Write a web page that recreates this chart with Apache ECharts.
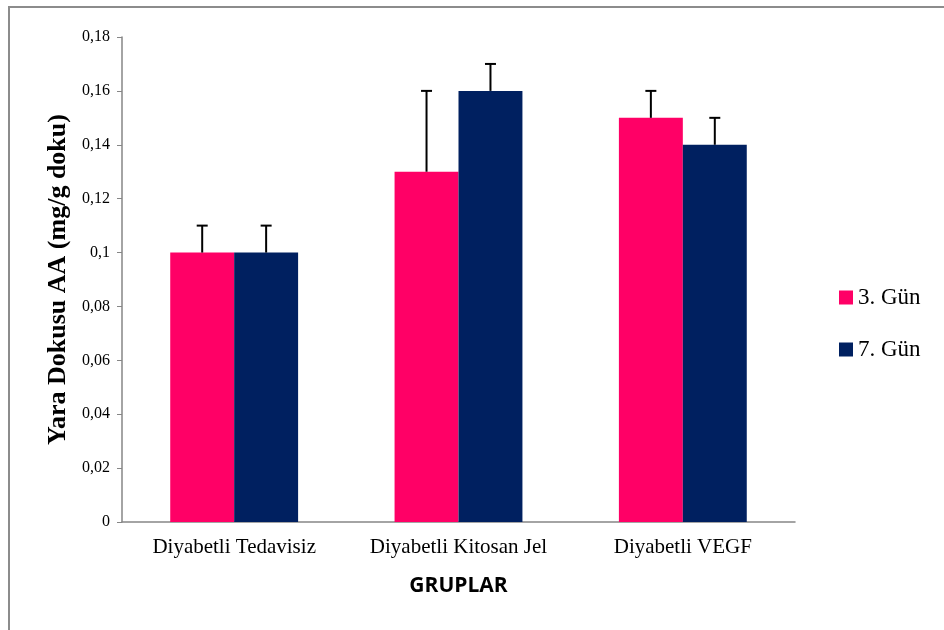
<!DOCTYPE html>
<html>
<head>
<meta charset="utf-8">
<script src="https://cdn.jsdelivr.net/npm/echarts@6/dist/echarts.min.js"></script>
<style>
html,body{margin:0;padding:0;background:#fff;}
#chart{width:944px;height:630px;}
</style>
</head>
<body>
<div id="chart"></div>
<script>
var groups = ['Diyabetli Tedavisiz', 'Diyabetli Kitosan Jel', 'Diyabetli VEGF'];
var seriesNames = ['3. Gün', '7. Gün'];
var day3 = [0.10, 0.13, 0.15];
var day3Err = [0.01, 0.03, 0.01];
var day7 = [0.10, 0.16, 0.14];
var day7Err = [0.01, 0.01, 0.01];
var colors = ['#ff0066', '#002060'];

var catGap = 0.43;

// hata cubugu (sadece yukari)
function errorBar(side){
	return function(params, api){
		var idx = api.value(0);
		var top = api.coord([idx, api.value(1) + api.value(2)]);
		var base = api.coord([idx, api.value(1)]);
		var catW = api.size([1, 0])[0];
		var bw = catW * (1 - catGap) / 2;
		var x = base[0] + side * bw / 2;
		var cap = 5.5;
		var st = {stroke: '#000', lineWidth: 2};
		return {
			type: 'group',
			children: [
				{type: 'line', shape: {x1: x, y1: base[1], x2: x, y2: top[1]}, style: st},
				{type: 'line', shape: {x1: x - cap, y1: top[1], x2: x + cap, y2: top[1]}, style: st}
			]
		};
	};
}

function errData(vals, errs){
	var out = [];
	for(var i = 0; i < vals.length; i++) out.push([i, vals[i], errs[i]]);
	return out;
}

var chart = echarts.init(document.getElementById('chart'));
var option = {
	animation: false,
	color: colors,
	graphic: [{
		type: 'rect',
		shape: {x: 9, y: 7, width: 1000, height: 700},
		style: {fill: 'none', stroke: '#8c8c8c', lineWidth: 2},
		z: -1
	}],
	grid: {left: 122, right: 149, top: 37, bottom: 108},
	legend: {
		orient: 'vertical',
		left: 834,
		top: 281,
		itemWidth: 14,
		itemHeight: 14,
		itemGap: 29,
		icon: 'rect',
		data: seriesNames,
		textStyle: {fontFamily: 'Liberation Serif', fontSize: 23, color: '#000', padding: [0, 0, 0, 0]}
	},
	xAxis: {
		type: 'category',
		data: groups,
		name: 'GRUPLAR',
		nameLocation: 'middle',
		nameGap: 54,
		nameTextStyle: {fontFamily: 'Open Sans', fontWeight: 'bold', fontSize: 21, color: '#000'},
		axisLine: {lineStyle: {color: '#868686', width: 1.5}},
		axisTick: {length: 6, lineStyle: {color: '#868686'}},
		axisLabel: {interval: 0, hideOverlap: false, fontFamily: 'Liberation Serif', fontSize: 21, color: '#000', margin: 15}
	},
	yAxis: {
		type: 'value',
		min: 0,
		max: 0.18,
		interval: 0.02,
		name: 'Yara Dokusu AA (mg/g doku)',
		nameLocation: 'middle',
		nameRotate: 90,
		nameGap: 48,
		nameTextStyle: {fontFamily: 'Liberation Serif', fontWeight: 'bold', fontSize: 26, color: '#000'},
		axisLine: {show: true, lineStyle: {color: '#868686', width: 1.5}},
		axisTick: {show: true, length: 5, lineStyle: {color: '#868686'}},
		splitLine: {show: false},
		axisLabel: {
			fontFamily: 'Liberation Serif', fontSize: 16, color: '#000', margin: 12,
			formatter: function(v){ return String(+v.toFixed(2)).replace('.', ','); }
		}
	},
	series: [
		{name: seriesNames[0], type: 'bar', data: day3, barGap: '0%', barCategoryGap: (catGap * 100) + '%', itemStyle: {color: colors[0]}},
		{name: seriesNames[1], type: 'bar', data: day7, barGap: '0%', barCategoryGap: (catGap * 100) + '%', itemStyle: {color: colors[1]}},
		{name: seriesNames[0], type: 'custom', renderItem: errorBar(-1), data: errData(day3, day3Err), z: 3},
		{name: seriesNames[1], type: 'custom', renderItem: errorBar(1), data: errData(day7, day7Err), z: 3}
	]
};
chart.setOption(option);
</script>
</body>
</html>
